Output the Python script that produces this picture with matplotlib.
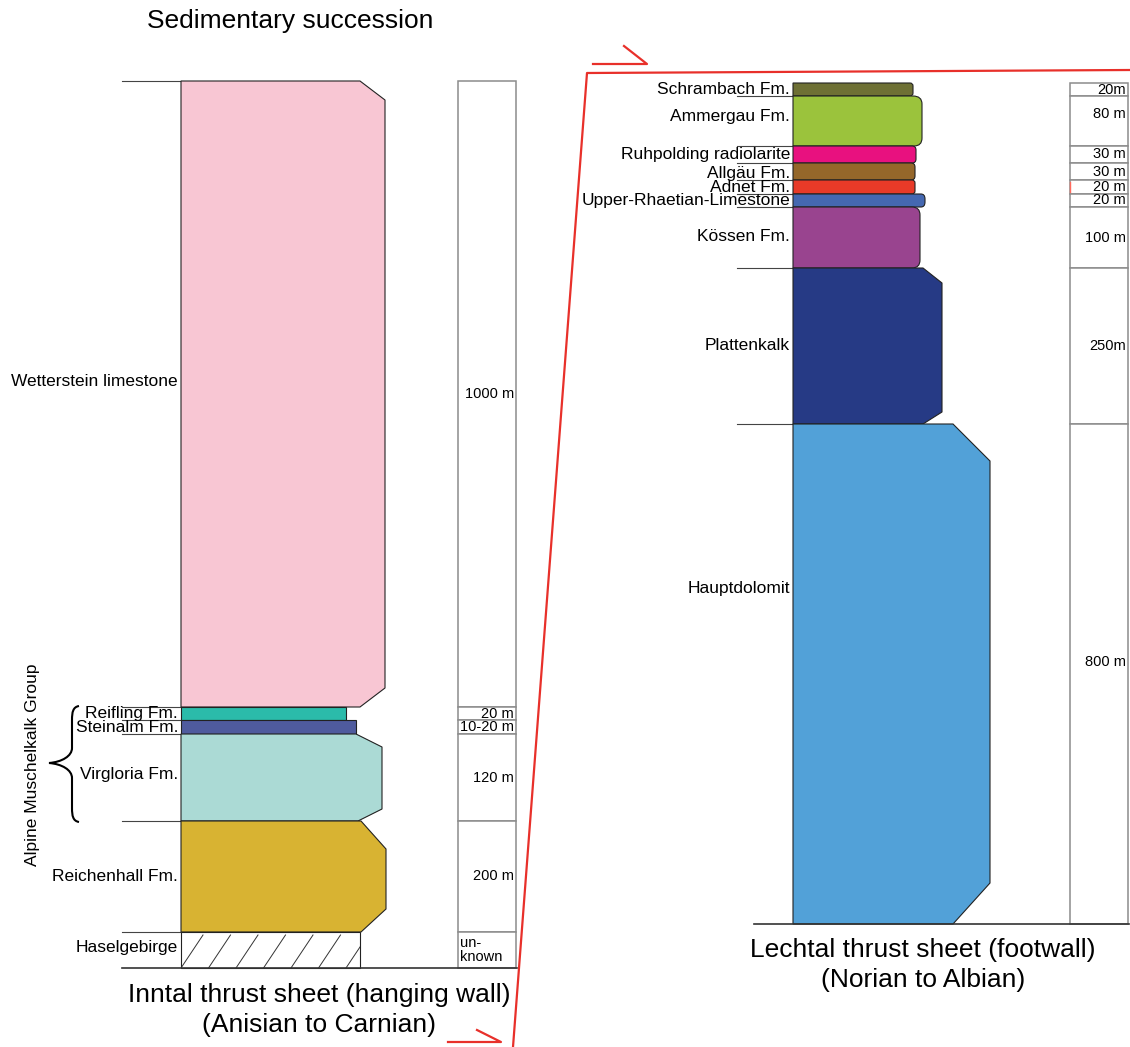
import matplotlib
matplotlib.use("Agg")
import matplotlib.pyplot as plt
import numpy as np
from matplotlib.patches import PathPatch, Rectangle
from matplotlib.path import Path

plt.rcParams['font.family'] = ['Liberation Sans', 'DejaVu Sans']

# ---- Inntal thrust sheet (hanging wall), top to bottom ----
left_names = ["Wetterstein limestone", "Reifling Fm.", "Steinalm Fm.",
              "Virgloria Fm.", "Reichenhall Fm.", "Haselgebirge"]
left_thick_txt = ["1000 m", "20 m", "10-20 m", "120 m", "200 m", "un-\nknown"]
left_drawn = [626, 13, 14, 87, 111, 36]          # drawn thickness (px)
left_width = [204, 165, 175, 201, 205, 179]      # weathering profile width
left_colors = ["#f8c6d3", "#2bbbaa", "#4f5b9e", "#abdad5", "#d8b332", "white"]
left_label_pos = [0.48, 0.5, 0.5, 0.46, 0.5, 0.44]

# ---- Lechtal thrust sheet (footwall), top to bottom ----
right_names = ["Schrambach Fm.", "Ammergau Fm.", "Ruhpolding radiolarite",
               "Allgäu Fm.", "Adnet Fm.", "Upper-Rhaetian-Limestone",
               "Kössen Fm.", "Plattenkalk", "Hauptdolomit"]
right_thick_txt = ["20m", "80 m", "30 m", "30 m", "20 m", "20 m",
                   "100 m", "250m", "800 m"]
right_drawn = [13, 50, 17, 17, 14, 13, 61, 156, 500]
right_width = [120, 129, 123, 122, 122, 132, 127, 149, 197]
right_colors = ["#6e7034", "#9bc33c", "#e8117f", "#95672a", "#e83a28",
                "#4568b1", "#99448f", "#263a85", "#52a1d8"]
right_label_pos = [0.5, 0.42, 0.5, 0.6, 0.5, 0.5, 0.48, 0.5, 0.33]
right_thick_pos = [0.5, 0.36, 0.5, 0.5, 0.5, 0.5, 0.5, 0.5, 0.476]

# corner shapes: (kind, top dx, top dy, bottom dx, bottom dy)
left_corners = [("cut", 25, 19, 25, 19), None, None,
                ("cut", 26, 13, 24, 12), ("cut", 25, 28, 25, 23), None]
right_corners = [("round", 3, 3, 3, 3), ("round", 9, 8, 8, 8),
                 ("round", 4, 4, 4, 4), ("round", 4, 4, 4, 4),
                 ("round", 3, 3, 3, 3), ("round", 4, 5, 4, 5),
                 ("round", 8, 8, 8, 8), ("cut", 19, 15, 19, 12),
                 ("cut", 37, 37, 37, 41)]

fig = plt.figure(figsize=(11.3, 10.47), dpi=100)
ax = fig.add_axes([0, 0, 1, 1])
ax.set_xlim(0, 1130)
ax.set_ylim(1047, 0)
ax.axis("off")


def layer_path(x0, top, bot, w, corner):
    xr = x0 + w
    if corner is None:
        verts = [(x0, top), (xr, top), (xr, bot), (x0, bot), (x0, top)]
        return Path(verts, [Path.MOVETO] + [Path.LINETO] * 3 + [Path.CLOSEPOLY])
    kind, tdx, tdy, bdx, bdy = corner
    if kind == "cut":
        verts = [(x0, top), (xr - tdx, top), (xr, top + tdy), (xr, bot - bdy),
                 (xr - bdx, bot), (x0, bot), (x0, top)]
        codes = [Path.MOVETO] + [Path.LINETO] * 5 + [Path.CLOSEPOLY]
    else:
        verts = [(x0, top), (xr - tdx, top), (xr, top), (xr, top + tdy),
                 (xr, bot - bdy), (xr, bot), (xr - bdx, bot), (x0, bot), (x0, top)]
        codes = [Path.MOVETO, Path.LINETO, Path.CURVE3, Path.CURVE3, Path.LINETO,
                 Path.CURVE3, Path.CURVE3, Path.LINETO, Path.CLOSEPOLY]
    return Path(verts, codes)


def draw_column(x0, top, drawn, widths, colors, corners, names, name_pos,
                thick_txt, thick_pos, tx0, tx1, line_x0, hatch_last=False):
    bounds = top + np.concatenate([[0], np.cumsum(drawn)])
    for i in range(len(drawn)):
        t, b = bounds[i], bounds[i + 1]
        p = layer_path(x0, t, b, widths[i], corners[i])
        ax.add_patch(PathPatch(p, facecolor=colors[i], edgecolor="#222222",
                               lw=0.8, zorder=3))
        if hatch_last and i == len(drawn) - 1:
            clip = PathPatch(p, facecolor="none", edgecolor="none")
            ax.add_patch(clip)
            for xs in np.arange(x0, x0 + widths[i] + 40, 27.5):
                ln, = ax.plot([xs, xs + 22], [b, b - 33], color="#333333",
                              lw=0.7, zorder=4)
                ln.set_clip_path(clip)
        ax.text(x0 - 3, t + name_pos[i] * (b - t), names[i], ha="right",
                va="center", fontsize=12.5, zorder=5)
        # thickness box
        ax.add_patch(Rectangle((tx0, t), tx1 - tx0, b - t, facecolor="white",
                               edgecolor="#8c8c8c", lw=1.1, zorder=2))
        if "\n" in thick_txt[i]:
            ax.text(tx0 + 2, (t + b) / 2, thick_txt[i], ha="left", va="center",
                    fontsize=10.5, linespacing=1.05, zorder=5)
        else:
            ax.text(tx1 - 2, t + thick_pos[i] * (b - t), thick_txt[i],
                    ha="right", va="center", fontsize=10.5, zorder=5)
    # contact lines to the left of the column
    for j, yb in enumerate(bounds[:-1]):
        if j == 0 and not hatch_last:
            continue
        ax.plot([line_x0, x0], [yb, yb], color="#444444", lw=0.8, zorder=2)
    return bounds


# left column
lb = draw_column(181, 81, left_drawn, left_width, left_colors, left_corners,
                 left_names, left_label_pos, left_thick_txt,
                 [0.5] * len(left_drawn), 458, 516, 122, hatch_last=True)
ax.plot([122, 517], [lb[-1], lb[-1]], color="#333333", lw=1.2, zorder=4)

# right column
rb = draw_column(793, 83, right_drawn, right_width, right_colors, right_corners,
                 right_names, right_label_pos, right_thick_txt, right_thick_pos,
                 1070, 1128, 737)
ax.plot([754, 1129], [rb[-1], rb[-1]], color="#333333", lw=1.2, zorder=4)
ax.plot([1070, 1070], [rb[4] + 2, rb[5] - 2], color="#ff6b5e", lw=1.0, zorder=6)

# Alpine Muschelkalk Group brace
brace = Path([(79, 706), (73, 707), (72, 712), (72, 720), (72, 748),
              (72, 756), (62, 762), (49, 763),
              (62, 764), (72, 770), (72, 778), (72, 808),
              (72, 816), (73, 821), (79, 822)],
             [Path.MOVETO, Path.CURVE4, Path.CURVE4, Path.CURVE4, Path.LINETO,
              Path.CURVE4, Path.CURVE4, Path.CURVE4,
              Path.CURVE4, Path.CURVE4, Path.CURVE4, Path.LINETO,
              Path.CURVE4, Path.CURVE4, Path.CURVE4])
ax.add_patch(PathPatch(brace, facecolor="none", edgecolor="black", lw=1.5, zorder=5))
ax.text(33, 765, "Alpine Muschelkalk Group", rotation=90, ha="center",
        va="center", fontsize=12.5)

# thrust fault and sense-of-movement half arrows
red = "#e8302a"
ax.plot([1130, 587, 513], [70, 73, 1047], color=red, lw=1.6, zorder=6)
ax.plot([593, 647, 624], [64, 64, 46], color=red, lw=1.6, zorder=6)
ax.plot([448, 501, 477], [1042, 1042, 1030], color=red, lw=1.6, zorder=6)

# titles
ax.text(290, 21, "Sedimentary succession", ha="center", va="center", fontsize=19)
ax.text(319, 995, "Inntal thrust sheet (hanging wall)", ha="center",
        va="center", fontsize=19)
ax.text(319, 1025, "(Anisian to Carnian)", ha="center", va="center", fontsize=19)
ax.text(923, 950, "Lechtal thrust sheet (footwall)", ha="center", va="center",
        fontsize=19)
ax.text(923, 980, "(Norian to Albian)", ha="center", va="center", fontsize=19)

fig.savefig("out.png", dpi=100, facecolor="white")
